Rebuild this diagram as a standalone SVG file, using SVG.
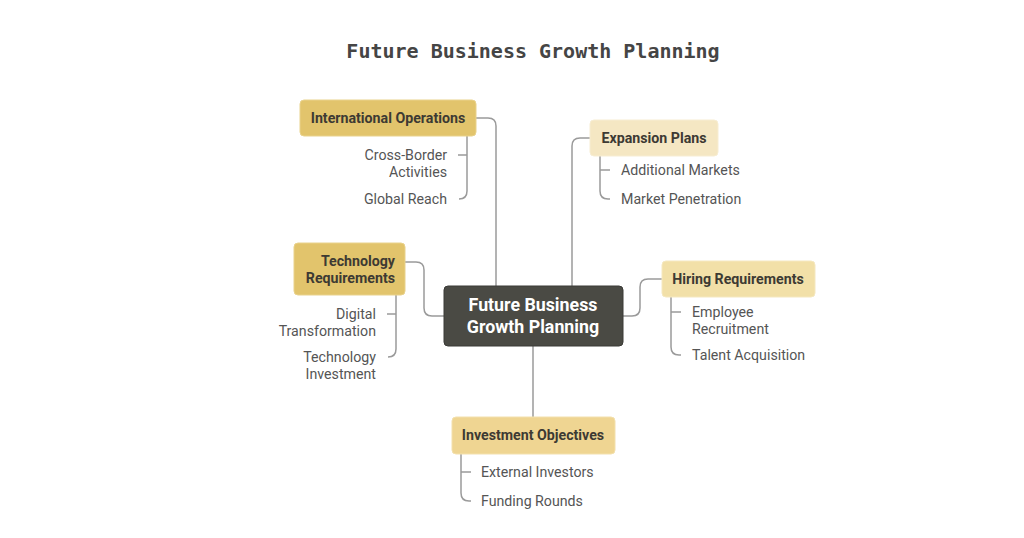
<svg xmlns="http://www.w3.org/2000/svg" width="1024" height="538" viewBox="0 0 1024 538">
<style>
.title{font-family:"DejaVu Sans Mono","Liberation Mono",monospace;font-weight:bold;font-size:20px;fill:#454545}
.nt{font-family:Roboto,"Liberation Sans",sans-serif;font-weight:bold;font-size:14.2px;fill:#3d3a33}
.ct{font-family:Roboto,"Liberation Sans",sans-serif;font-weight:bold;font-size:17.8px;fill:#ffffff}
.lt{font-family:Roboto,"Liberation Sans",sans-serif;font-size:14.2px;fill:#555555}
.conn path{fill:none;stroke:#9a9a9a;stroke-width:1.5}
</style>
<rect width="1024" height="538" fill="#ffffff"/>
<text class="title" x="533" y="58" text-anchor="middle">Future Business Growth Planning</text>
<g class="conn">
<path d="M476 118 H488 Q496 118 496 126 V286"/>
<path d="M590 138 H580 Q572 138 572 146 V286"/>
<path d="M405 262 H416 Q424 262 424 270 V308 Q424 316 432 316 H444"/>
<path d="M623 316 H632 Q640 316 640 308 V287 Q640 279 648 279 H662"/>
<path d="M533 346 V417"/>
<path d="M467 136 V191 Q467 199 459 199"/>
<path d="M458 155 H467"/>
<path d="M600 156 V191 Q600 199 608 199 H610"/>
<path d="M600 170 H610"/>
<path d="M396 295 V349 Q396 357 388 357"/>
<path d="M387 314 H396"/>
<path d="M671 297 V347 Q671 355 679 355 H681"/>
<path d="M671 312 H681"/>
<path d="M461 454 V493 Q461 501 469 501 H471"/>
<path d="M461 472 H471"/>
</g>
<g id="center">
<rect x="444" y="286" width="179" height="60" rx="4" fill="#4a4a44" stroke="#3a3a36"/>
<text class="ct" x="533" y="311" text-anchor="middle">Future Business</text>
<text class="ct" x="533" y="333" text-anchor="middle">Growth Planning</text>
</g>
<g id="intl">
<rect x="300" y="100" width="176" height="36" rx="4" fill="#e2c46c" stroke="#e9d28c"/>
<text class="nt" x="388" y="122.5" text-anchor="middle">International Operations</text>
<text class="lt" x="447" y="160" text-anchor="end">Cross-Border</text>
<text class="lt" x="447" y="177" text-anchor="end">Activities</text>
<text class="lt" x="447" y="204" text-anchor="end">Global Reach</text>
</g>
<g id="expansion">
<rect x="590" y="120" width="128" height="36" rx="4" fill="#f5e7c3" stroke="#f7edd3"/>
<text class="nt" x="654" y="142.5" text-anchor="middle">Expansion Plans</text>
<text class="lt" x="621" y="175">Additional Markets</text>
<text class="lt" x="621" y="204">Market Penetration</text>
</g>
<g id="tech">
<rect x="294" y="243" width="111" height="52" rx="4" fill="#e2c46c" stroke="#e9d28c"/>
<text class="nt" x="395" y="266" text-anchor="end">Technology</text>
<text class="nt" x="395" y="283" text-anchor="end">Requirements</text>
<text class="lt" x="376" y="319" text-anchor="end">Digital</text>
<text class="lt" x="376" y="336" text-anchor="end">Transformation</text>
<text class="lt" x="376" y="362" text-anchor="end">Technology</text>
<text class="lt" x="376" y="379" text-anchor="end">Investment</text>
</g>
<g id="hiring">
<rect x="662" y="261" width="153" height="36" rx="4" fill="#f2e0a8" stroke="#f5e8c0"/>
<text class="nt" x="738" y="283.5" text-anchor="middle">Hiring Requirements</text>
<text class="lt" x="692" y="317">Employee</text>
<text class="lt" x="692" y="334">Recruitment</text>
<text class="lt" x="692" y="360">Talent Acquisition</text>
</g>
<g id="invest">
<rect x="452" y="417" width="163" height="37" rx="4" fill="#efd592" stroke="#f3e0ad"/>
<text class="nt" x="533" y="440" text-anchor="middle">Investment Objectives</text>
<text class="lt" x="481" y="477">External Investors</text>
<text class="lt" x="481" y="506">Funding Rounds</text>
</g>
</svg>
